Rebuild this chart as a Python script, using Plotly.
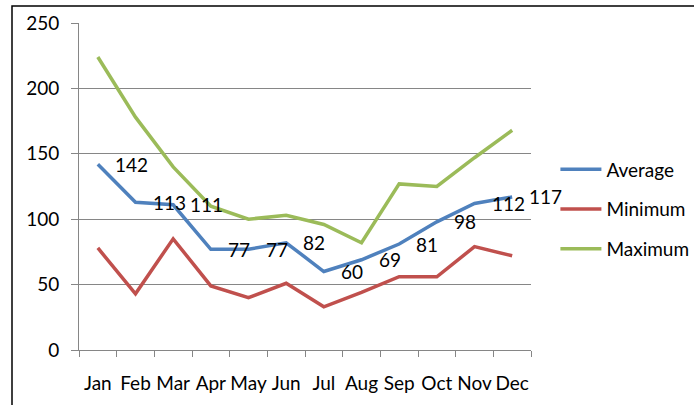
import plotly.graph_objects as go

months = ["Jan", "Feb", "Mar", "Apr", "May", "Jun", "Jul", "Aug", "Sep", "Oct", "Nov", "Dec"]
average = [142, 113, 111, 77, 77, 82, 60, 69, 81, 98, 112, 117]
minimum = [78, 43, 85, 49, 40, 51, 33, 44, 56, 56, 79, 72]
maximum = [224, 178, 140, 110, 100, 103, 96, 82, 127, 125, 147, 168]
y_ticks = [0, 50, 100, 150, 200, 250]

FONT = "Lato, Carlito, Calibri, sans-serif"
FS = 19
W, H = 694, 405
L, R, T, B = 79, 163, 23, 55
pw, ph = W - L - R, H - T - B

fig = go.Figure()
series = [("Average", average, "#4F81BD"),
          ("Minimum", minimum, "#C0504D"),
          ("Maximum", maximum, "#9BBB59")]
for name, vals, col in series:
    fig.add_trace(go.Scatter(x=months, y=vals, name=name, mode="lines",
                             line=dict(color=col, width=3.5),
                             legendgroup=name))

for m, v in zip(months, average):
    fig.add_annotation(x=m, y=v, text=str(v), showarrow=False,
                       xanchor="left", yanchor="middle", xshift=15,
                       font=dict(family=FONT, size=FS, color="black"))

# outer chart border (cropped)
fig.add_shape(type="rect", xref="paper", yref="paper",
              x0=(12 - L) / pw, x1=(720 - L) / pw,
              y0=(H - B - 430) / ph, y1=(H - B - 6) / ph,
              line=dict(color="black", width=1.5), fillcolor="rgba(0,0,0,0)")

fig.update_layout(
    width=W, height=H,
    margin=dict(l=L, r=R, t=T, b=B, autoexpand=False),
    paper_bgcolor="white", plot_bgcolor="white",
    font=dict(family=FONT, size=FS, color="black"),
    legend=dict(x=1.054, xanchor="left", y=0.43, yanchor="middle",
                tracegroupgap=12, font=dict(size=FS), itemwidth=41,
                bgcolor="rgba(0,0,0,0)"),
    showlegend=True,
)
fig.update_xaxes(type="category", range=[-0.5, len(months) - 0.5],
                 showgrid=False, showline=True, linecolor="#868686",
                 linewidth=1, ticks="outside", tickson="boundaries", ticklen=6,
                 tickcolor="#868686", ticklabelstandoff=16, zeroline=False,
                 tickangle=0, automargin=False)
fig.update_yaxes(range=[0, 250], tickvals=y_ticks, showgrid=True, gridcolor="#868686",
                 gridwidth=1, showline=True, linecolor="#868686", linewidth=1,
                 ticks="outside", ticklen=7, tickcolor="#868686",
                 ticklabelstandoff=8, zeroline=False, automargin=False)

fig.write_html("out.html", config={"displayModeBar": False},
               post_script="document.body.style.margin='0px';")
